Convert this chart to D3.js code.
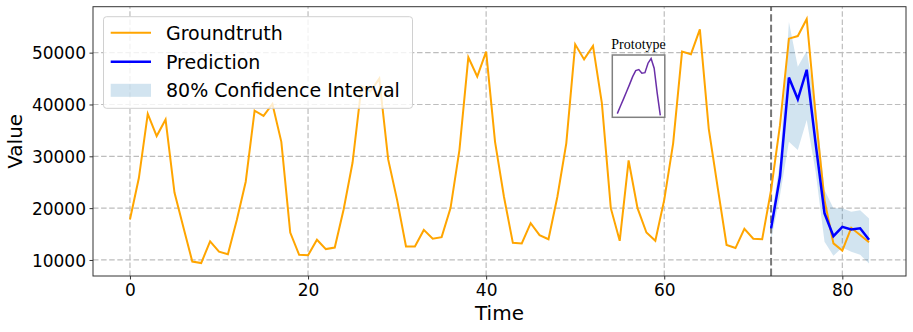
<!DOCTYPE html>
<html>
<head>
<meta charset="utf-8">
<script src="https://cdn.jsdelivr.net/npm/d3@7"></script>
<style>
  body { margin: 0; background: #fff; }
  svg { display: block; font-family: "DejaVu Sans", sans-serif; }
  .tick text { font-size: 17px; fill: #000; }
</style>
</head>
<body>
<svg id="chart" width="913" height="332"></svg>
<script>
// groundtruth, t = 0..83
const groundtruth = [
  17800, 25800, 38200, 33900, 37100, 23000, 16300, 9700, 9400, 13600,
  11600, 11100, 17700, 25100, 38800, 37800, 40100, 32800, 15300, 11000,
  10900, 13900, 12100, 12400, 19800, 28800, 43500, 42500, 45000, 29400,
  21600, 12600, 12600, 15800, 14100, 14400, 20000, 31200, 49100, 45400,
  50200, 32800, 22200, 13300, 13200, 17100, 14800, 14000, 22200, 32500,
  51600, 48700, 51300, 40200, 20000, 13700, 29200, 20000, 15300, 13700,
  21600, 32500, 50200, 49700, 54500, 35300, 24000, 12900, 12300, 16000,
  14100, 14000, 23500, 36000, 52700, 53200, 56500, 38000, 21500, 13200,
  11800, 16200, 14800, 13400
];

// forecast horizon, t = 72..83
const forecastStart = 72;
const prediction = [16100, 26100, 45200, 41000, 46700, 32500, 19000, 14600, 16400, 15900, 16100, 13900];
const lower80 = [13800, 22500, 32800, 31200, 37000, 27000, 13500, 10800, 12400, 11600, 11000, 9300];
const upper80 = [17700, 29000, 55900, 47300, 50300, 40000, 23500, 20000, 20000, 19300, 19600, 18000];

// small prototype shape shown in the inset
const prototype = [10, 32, 53, 75, 97, 120, 138, 141, 130, 132, 160, 174, 145, 70, 5];

const xTicks = [0, 20, 40, 60, 80];
const yTicks = [10000, 20000, 30000, 40000, 50000];
const legendLabels = ["Groundtruth", "Prediction", "80% Confidence Interval"];

const svg = d3.select("#chart");
const margin = {left: 93, right: 7, top: 6.7, bottom: 56};
const W = +svg.attr("width"), H = +svg.attr("height");

const x = d3.scaleLinear().domain([-4.15, 87.15]).range([margin.left, W - margin.right]);
const y = d3.scaleLinear().domain([6907, 58866]).range([H - margin.bottom, margin.top]);

// grid
const grid = svg.append("g");
grid.selectAll(".gx").data(xTicks).enter().append("line")
  .attr("x1", d => x(d)).attr("x2", d => x(d))
  .attr("y1", y.range()[0]).attr("y2", y.range()[1])
  .attr("stroke", "#bdbdbd").attr("stroke-width", 1.2).attr("stroke-dasharray", "5.5,2.6");
grid.selectAll(".gy").data(yTicks).enter().append("line")
  .attr("x1", x.range()[0]).attr("x2", x.range()[1])
  .attr("y1", d => y(d)).attr("y2", d => y(d))
  .attr("stroke", "#bdbdbd").attr("stroke-width", 1.2).attr("stroke-dasharray", "5.5,2.6");

// confidence band
const fc = prediction.map((p, i) => ({t: forecastStart + i, p, lo: lower80[i], hi: upper80[i]}));
svg.append("path")
  .datum(fc)
  .attr("fill", "#1f77b4").attr("fill-opacity", 0.2)
  .attr("d", d3.area().x(d => x(d.t)).y0(d => y(d.lo)).y1(d => y(d.hi)));

// forecast start marker
svg.append("line")
  .attr("x1", x(forecastStart)).attr("x2", x(forecastStart))
  .attr("y1", y.range()[0]).attr("y2", y.range()[1])
  .attr("stroke", "#777").attr("stroke-width", 2).attr("stroke-dasharray", "7.4,3.2");

svg.append("path")
  .datum(groundtruth)
  .attr("fill", "none").attr("stroke", "orange").attr("stroke-width", 2)
  .attr("stroke-linejoin", "miter")
  .attr("d", d3.line().x((d, i) => x(i)).y(d => y(d)));

svg.append("path")
  .datum(fc)
  .attr("fill", "none").attr("stroke", "#0000ff").attr("stroke-width", 2.5)
  .attr("d", d3.line().x(d => x(d.t)).y(d => y(d.p)));

// axes
const xAxis = svg.append("g")
  .attr("transform", `translate(0,${y.range()[0]})`)
  .call(d3.axisBottom(x).tickValues(xTicks).tickSize(3.5).tickPadding(4).tickFormat(d3.format("d")));
const yAxis = svg.append("g")
  .attr("transform", `translate(${x.range()[0]},0)`)
  .call(d3.axisLeft(y).tickValues(yTicks).tickSize(3.5).tickPadding(3.5).tickFormat(d3.format("d")));
[xAxis, yAxis].forEach(a => {
  a.select(".domain").remove();
  a.selectAll(".tick line").attr("stroke", "#333");
  a.selectAll("text").attr("font-family", "DejaVu Sans");
});
yAxis.selectAll("text").attr("dy", "0.36em");

svg.append("rect")
  .attr("x", x.range()[0]).attr("y", y.range()[1])
  .attr("width", x.range()[1] - x.range()[0]).attr("height", y.range()[0] - y.range()[1])
  .attr("fill", "none").attr("stroke", "#333").attr("stroke-width", 1);

svg.append("text")
  .attr("x", (x.range()[0] + x.range()[1]) / 2).attr("y", 320)
  .attr("text-anchor", "middle").attr("font-size", 20).text("Time");
svg.append("text")
  .attr("transform", `translate(22,${(y.range()[0] + y.range()[1]) / 2}) rotate(-90)`)
  .attr("text-anchor", "middle").attr("font-size", 20).text("Value");

// prototype inset
const inset = {x: 612.3, y: 55, w: 52.5, h: 62.3};
const px = d3.scaleLinear().domain([0, prototype.length - 1]).range([inset.x + 5, inset.x + inset.w - 4.5]);
const py = d3.scaleLinear().domain(d3.extent(prototype)).range([inset.y + inset.h - 2, inset.y + 3.5]);
svg.append("rect")
  .attr("x", inset.x).attr("y", inset.y).attr("width", inset.w).attr("height", inset.h)
  .attr("fill", "#fff").attr("stroke", "#808080").attr("stroke-width", 1.5);
svg.append("path")
  .datum(prototype)
  .attr("fill", "none").attr("stroke", "#6a2fa8").attr("stroke-width", 1.5)
  .attr("d", d3.line().x((d, i) => px(i)).y(d => py(d)));
svg.append("text")
  .attr("x", inset.x + inset.w / 2).attr("y", 49)
  .attr("text-anchor", "middle").attr("font-family", "Liberation Serif, serif")
  .attr("font-size", 14).text("Prototype");

// legend
const lg = svg.append("g");
lg.append("rect")
  .attr("x", 103.5).attr("y", 16.7).attr("width", 309).attr("height", 91.6).attr("rx", 3)
  .attr("fill", "#fff").attr("fill-opacity", 0.8).attr("stroke", "#d0d0d0");
const rowY = [32.7, 61.7, 90.3];
lg.append("line").attr("x1", 110.7).attr("x2", 151).attr("y1", rowY[0]).attr("y2", rowY[0])
  .attr("stroke", "orange").attr("stroke-width", 2);
lg.append("line").attr("x1", 110.7).attr("x2", 151).attr("y1", rowY[1]).attr("y2", rowY[1])
  .attr("stroke", "#0000ff").attr("stroke-width", 2.5);
lg.append("rect").attr("x", 110.7).attr("y", rowY[2] - 6.5).attr("width", 40.3).attr("height", 13)
  .attr("fill", "#1f77b4").attr("fill-opacity", 0.2);
lg.selectAll(".lt").data(legendLabels).enter().append("text")
  .attr("x", 166).attr("y", (d, i) => rowY[i]).attr("dy", "0.36em")
  .attr("font-size", 19).text(d => d);
</script>
</body>
</html>
